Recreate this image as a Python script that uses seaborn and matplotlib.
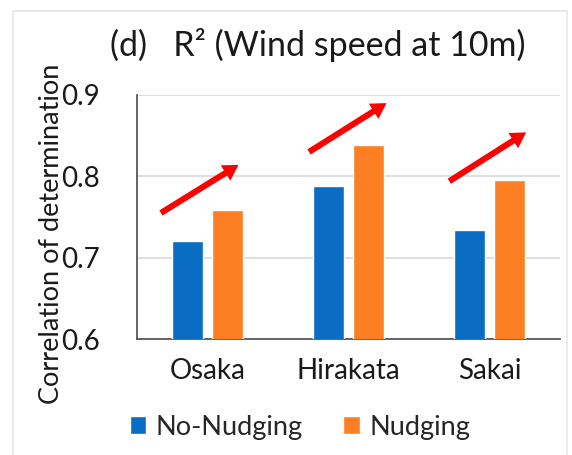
import matplotlib
matplotlib.use("Agg")
import matplotlib.pyplot as plt
from matplotlib.patches import Rectangle
import seaborn as sns
import pandas as pd

# Data
sites = ["Osaka", "Hirakata", "Sakai"]
no_nudging = [0.720, 0.788, 0.734]
nudging = [0.758, 0.838, 0.795]
series_names = ["No-Nudging", "Nudging"]
y_ticks = [0.6, 0.7, 0.8, 0.9]
title_text = "(d)   R\u00b2 (Wind speed at 10m)"
y_label = "Correlation of determination"

# Improvement arrows (data coordinates: start -> end)
arrow_starts = [(-0.33, 0.755), (0.72, 0.830), (1.715, 0.794)]
arrow_ends = [(0.22, 0.814), (1.27, 0.890), (2.26, 0.854)]

colors = ["#0B6CC4", "#FD7F23"]

df = pd.DataFrame({
    "site": sites * 2,
    "value": no_nudging + nudging,
    "run": [series_names[0]] * len(sites) + [series_names[1]] * len(sites),
})

sns.set_theme(style="white")
plt.rcParams["font.family"] = ["Lato", "DejaVu Sans"]

fig = plt.figure(figsize=(5.72, 4.55), dpi=100)
ax = fig.add_axes([137 / 572, 1 - 339 / 455, (560 - 137) / 572, (339 - 95) / 455])

sns.barplot(data=df, x="site", y="value", hue="run", palette=colors,
            saturation=1, width=0.57, gap=0.22, ax=ax, legend=True, zorder=3)

ax.set_ylim(0.6, 0.9)
ax.set_xlim(-0.5, 2.5)
ax.set_yticks(y_ticks)
ax.set_yticklabels([f"{t:.1f}" for t in y_ticks])
ax.yaxis.grid(True, color="#D9D9D9", linewidth=1.2, zorder=0)
ax.set_axisbelow(True)
ax.set_xlabel("")
ax.set_ylabel("")
ax.tick_params(axis="both", length=0, labelsize=20, colors="#1a1a1a")
ax.tick_params(axis="y", pad=27)
ax.tick_params(axis="x", pad=14)

for side in ["top", "right"]:
    ax.spines[side].set_visible(False)
ax.spines["left"].set_color("#595959")
ax.spines["bottom"].set_color("#595959")
ax.spines["left"].set_linewidth(1.3)
ax.spines["bottom"].set_linewidth(1.3)

# Red arrows showing the improvement from nudging
for (x0, y0), (x1, y1) in zip(arrow_starts, arrow_ends):
    ax.annotate("", xy=(x1, y1), xytext=(x0, y0),
                arrowprops=dict(arrowstyle="simple,head_length=0.55,head_width=0.65,tail_width=0.22",
                                mutation_scale=20, color="#FF0000", lw=0, shrinkA=0, shrinkB=0),
                zorder=5, annotation_clip=False)

# Legend below the axis
handles, labels = ax.get_legend_handles_labels()
ax.legend_.remove()
fig.legend(handles, labels, loc="center", bbox_to_anchor=(300 / 572, 1 - 427 / 455),
           ncol=2, frameon=False, fontsize=19.5, handlelength=0.6, handleheight=0.6,
           handletextpad=0.35, columnspacing=1.5, borderaxespad=0)

fig.text(318 / 572, 1 - 45 / 455, title_text, ha="center", va="center",
         fontsize=24.5, color="#1a1a1a")
fig.text(52 / 572, 1 - 234 / 455, y_label, rotation=90, ha="center", va="center",
         fontsize=19.5, color="#1a1a1a")

# Light frame around the panel
fig.patches.append(Rectangle((13 / 572, -0.05), (567 - 13) / 572, 1.05 - 11 / 455,
                             transform=fig.transFigure, fill=False,
                             edgecolor="#E6E6E6", linewidth=1.2))

fig.savefig("out.png", dpi=100, facecolor="white")
